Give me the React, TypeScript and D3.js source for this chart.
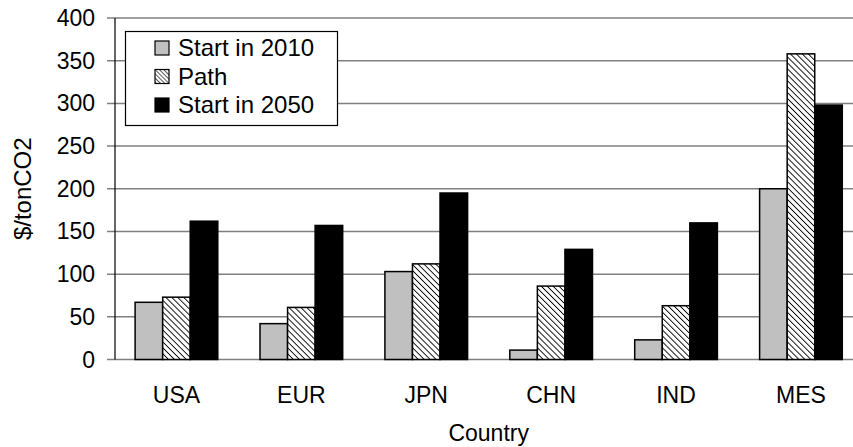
import React from 'react';
import * as d3 from 'd3';

const countries = ['USA', 'EUR', 'JPN', 'CHN', 'IND', 'MES'];
const seriesNames = ['Start in 2010', 'Path', 'Start in 2050'];
const start2010 = [67, 42, 103, 11, 23, 200];
const pathVals = [73, 61, 112, 86, 63, 358];
const start2050 = [162, 157, 195, 129, 160, 298];
const yTicks = [0, 50, 100, 150, 200, 250, 300, 350, 400];

const W = 853;
const H = 447;
const FONT = '"Liberation Sans", Arial, sans-serif';
const FS = 23;

const App = () => {
  const left = 114;
  const step = 124.9;
  const right = left + step * countries.length; // runs past the picture edge
  const top = 18;
  const bottom = 359.5;

  const x = d3
    .scaleBand()
    .domain(countries)
    .range([left, right])
    .paddingInner(0.338)
    .paddingOuter(0.169);
  const x1 = d3.scaleBand().domain(seriesNames).range([0, x.bandwidth()]);
  const y = d3.scaleLinear().domain([0, 400]).range([bottom, top]);

  const values = [start2010, pathVals, start2050];
  const fills = ['#c0c0c0', 'url(#hatch)', '#000'];
  const legendFills = ['#c0c0c0', 'url(#hatchSmall)', '#000'];

  return (
    <svg
      width={W}
      height={H}
      style={{ position: 'absolute', left: 0, top: 0, background: '#fff' }}
      fontFamily={FONT}
    >
      <defs>
        <pattern id="hatch" width="4.2" height="4.2" patternUnits="userSpaceOnUse" patternTransform="rotate(-45)">
          <rect width="4.2" height="4.2" fill="#fff" />
          <line x1="0" y1="0" x2="0" y2="4.2" stroke="#000" strokeWidth="1.8" />
        </pattern>
        <pattern id="hatchSmall" width="3" height="3" patternUnits="userSpaceOnUse" patternTransform="rotate(-45)">
          <rect width="3" height="3" fill="#fff" />
          <line x1="0" y1="0" x2="0" y2="3" stroke="#000" strokeWidth="1.3" />
        </pattern>
      </defs>

      {/* gridlines + ticks */}
      {yTicks.map((t) => (
        <g key={t}>
          <line x1={107} x2={right} y1={y(t)} y2={y(t)} stroke="#808080" strokeWidth={1.5} />
          <text x={95} y={y(t)} dy="0.35em" textAnchor="end" fontSize={FS} fill="#000">
            {t}
          </text>
        </g>
      ))}
      <line x1={left + 1} x2={left + 1} y1={top} y2={bottom} stroke="#000" strokeWidth={1.2} />

      {/* bars */}
      {countries.map((c, i) => (
        <g key={c} transform={`translate(${x(c)},0)`}>
          {seriesNames.map((s, j) => (
            <rect
              key={s}
              x={x1(s)}
              y={y(values[j][i])}
              width={x1.bandwidth()}
              height={bottom - y(values[j][i])}
              fill={fills[j]}
              stroke="#000"
              strokeWidth={1.5}
            />
          ))}
          <text x={x.bandwidth() / 2} y={403} textAnchor="middle" fontSize={FS} fill="#000">
            {c}
          </text>
        </g>
      ))}

      {/* axis titles */}
      <text x={(left + right) / 2} y={441} textAnchor="middle" fontSize={FS} fill="#000">
        Country
      </text>
      <text
        transform={`translate(31,${(top + bottom) / 2}) rotate(-90)`}
        textAnchor="middle"
        fontSize={24}
        fill="#000"
      >
        $/tonCO2
      </text>

      {/* legend */}
      <g>
        <rect x={125.5} y={31.5} width={212} height={94} fill="#fff" stroke="#000" strokeWidth={1.2} />
        {seriesNames.map((s, j) => {
          const cy = 48 + j * 28.5;
          return (
            <g key={s}>
              <rect x={155} y={cy - 7} width={14} height={14} fill={legendFills[j]} stroke="#000" strokeWidth={1.2} />
              <text x={178} y={cy} dy="0.35em" fontSize={24} fill="#000">
                {s}
              </text>
            </g>
          );
        })}
      </g>
    </svg>
  );
};

export default App;
